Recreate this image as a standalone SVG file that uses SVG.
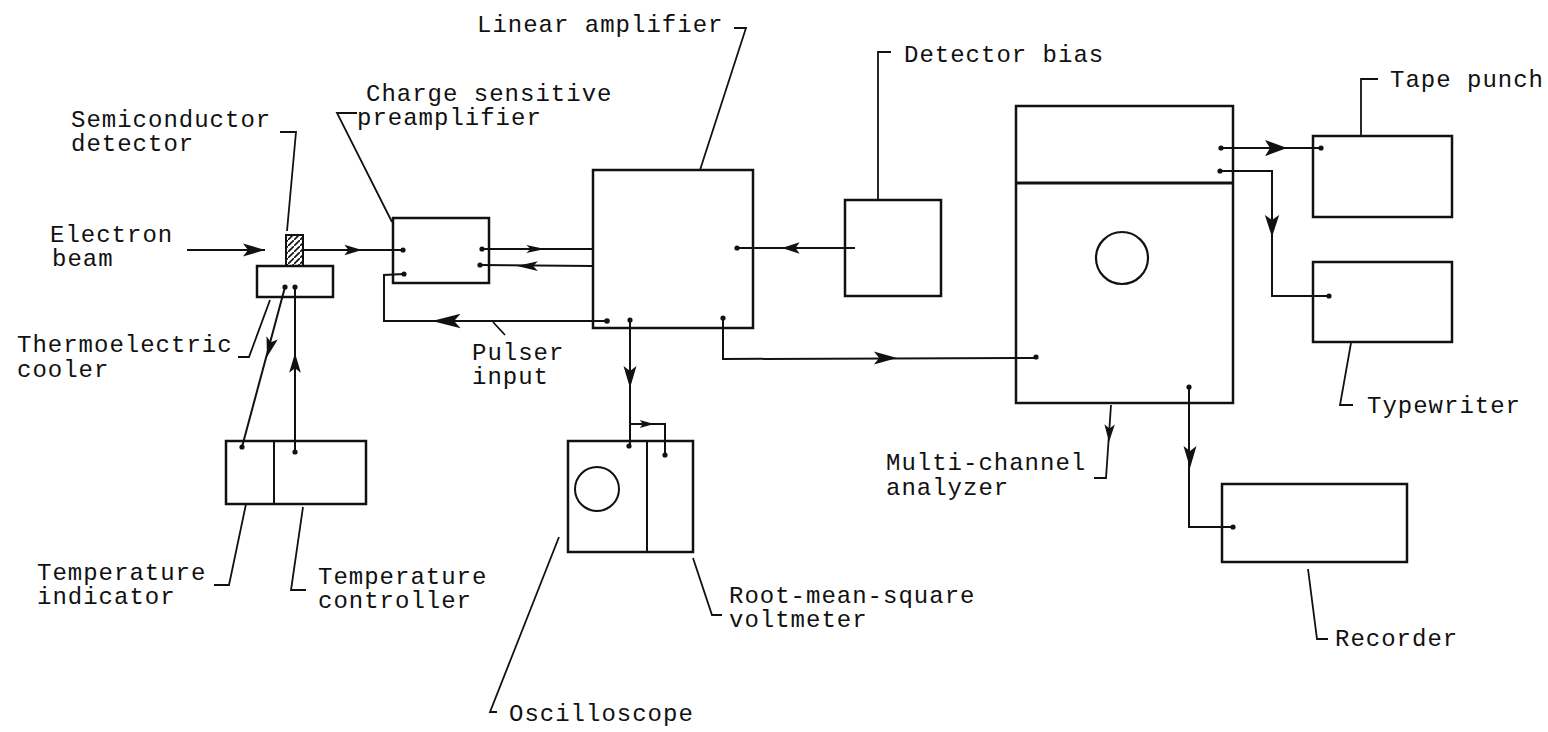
<svg xmlns="http://www.w3.org/2000/svg" xmlns:xlink="http://www.w3.org/1999/xlink" width="1548" height="732" viewBox="0 0 1548 732">
<style>
  .bg{fill:#fff}
  .box{fill:none;stroke:#111;stroke-width:2.5}
  .ln{fill:none;stroke:#111;stroke-width:2;stroke-linejoin:miter}
  .ld{fill:none;stroke:#111;stroke-width:1.8}
  .dot{fill:#111}
  .ah{fill:#111}
  text{font-family:"Liberation Mono","DejaVu Sans Mono",monospace;font-size:24px;letter-spacing:1px;fill:#111}
</style>
<defs>
  <path id="ah" d="M0,0 L-22,-6.5 L-17,0 L-22,6.5 Z"/>
  <pattern id="hatch" patternUnits="userSpaceOnUse" width="6" height="6">
    <path d="M-1,7 L7,-1" stroke="#111" stroke-width="1.6"/>
  </pattern>
</defs>
<rect class="bg" x="0" y="0" width="1548" height="732"/>

<g id="detector">
  <rect x="286" y="235" width="17" height="31" fill="url(#hatch)" stroke="#111" stroke-width="2"/>
  <path class="ld" d="M280,132 L296,132 L287,231"/>
  <text x="71" y="127">Semiconductor</text>
  <text x="71" y="151">detector</text>
</g>

<g id="beam-label">
  <text x="50" y="242">Electron</text>
  <text x="52" y="266">beam</text>
</g>

<g id="cooler">
  <rect class="box" x="257" y="266" width="76" height="31"/>
  <path class="ld" d="M270,300 L249,357 L238,357"/>
  <text x="17" y="352">Thermoelectric</text>
  <text x="17" y="377">cooler</text>
</g>

<g id="temperature">
  <rect class="box" x="226" y="441" width="140" height="63"/>
  <line class="ln" x1="274" y1="441" x2="274" y2="504"/>
  <path class="ld" d="M246,504 L229,585 L214,585"/>
  <path class="ld" d="M303,507 L291,590 L306,590"/>
  <text x="37" y="580">Temperature</text>
  <text x="37" y="604">indicator</text>
  <text x="318" y="584">Temperature</text>
  <text x="318" y="608">controller</text>
</g>

<g id="preamp">
  <rect class="box" x="393" y="218" width="96" height="65"/>
  <path class="ld" d="M357,113 L337,113 L392,222"/>
  <text x="366" y="101">Charge sensitive</text>
  <text x="357" y="125">preamplifier</text>
</g>

<g id="linear-amplifier">
  <rect class="box" x="593" y="170" width="160" height="158"/>
  <path class="ld" d="M734,28 L746,28 L700,170"/>
  <text x="477" y="32">Linear amplifier</text>
</g>

<g id="pulser-label">
  <path class="ld" d="M493,322 L505,335"/>
  <text x="472" y="360">Pulser</text>
  <text x="472" y="384">input</text>
</g>

<g id="detector-bias">
  <rect class="box" x="845" y="200" width="96" height="96"/>
  <path class="ld" d="M891,52 L878,52 L878,200"/>
  <text x="904" y="62">Detector bias</text>
</g>

<g id="scope-rms">
  <rect class="box" x="568" y="441" width="125" height="111"/>
  <line class="ln" x1="647" y1="441" x2="647" y2="552"/>
  <circle cx="597" cy="489" r="22" fill="none" stroke="#111" stroke-width="2"/>
  <path class="ld" d="M559,537 L490,712 L497,712"/>
  <path class="ld" d="M693,558 L712,615 L722,615"/>
  <text x="509" y="721">Oscilloscope</text>
  <text x="729" y="603">Root-mean-square</text>
  <text x="729" y="627">voltmeter</text>
</g>

<g id="mca">
  <rect class="box" x="1016" y="106" width="217" height="297"/>
  <line x1="1016" y1="183" x2="1233" y2="183" stroke="#111" stroke-width="3.2"/>
  <circle cx="1122" cy="258" r="26" fill="none" stroke="#111" stroke-width="2.2"/>
  <path class="ld" d="M1111,405 L1106,478 L1094,478"/>
  <use xlink:href="#ah" class="ah" transform="translate(1109,442) rotate(92) scale(0.8)"/>
  <text x="886" y="470">Multi-channel</text>
  <text x="886" y="495">analyzer</text>
</g>

<g id="tape-punch">
  <rect class="box" x="1313" y="136" width="139" height="81"/>
  <path class="ld" d="M1378,79 L1361,79 L1361,136"/>
  <text x="1390" y="87">Tape punch</text>
</g>

<g id="typewriter">
  <rect class="box" x="1313" y="262" width="139" height="80"/>
  <path class="ld" d="M1351,343 L1340,405 L1353,405"/>
  <text x="1367" y="413">Typewriter</text>
</g>

<g id="recorder">
  <rect class="box" x="1222" y="484" width="185" height="78"/>
  <path class="ld" d="M1308,569 L1317,639 L1328,639"/>
  <text x="1335" y="646">Recorder</text>
</g>

<g id="connectors">
  <!-- electron beam -->
  <path class="ln" d="M187,250 L265,250"/>
  <use xlink:href="#ah" class="ah" transform="translate(265,250)"/>
  <!-- detector to preamp -->
  <path class="ln" d="M303,250 L403,250"/>
  <use xlink:href="#ah" class="ah" transform="translate(362,250) scale(0.8)"/>
  <!-- preamp to amp -->
  <path class="ln" d="M482,249 L593,249"/>
  <use xlink:href="#ah" class="ah" transform="translate(545,249) scale(0.85,0.6)"/>
  <!-- amp to preamp -->
  <path class="ln" d="M593,266 L480,265"/>
  <use xlink:href="#ah" class="ah" transform="translate(517,266) rotate(180) scale(0.95,0.75)"/>
  <!-- pulser loop -->
  <path class="ln" d="M607,321 L384,321 L384,275 L404,274"/>
  <use xlink:href="#ah" class="ah" transform="translate(432,321) rotate(180) scale(1.3,1.1)"/>
  <!-- bias to amp -->
  <path class="ln" d="M855,248 L737,248"/>
  <use xlink:href="#ah" class="ah" transform="translate(782,248) rotate(180) scale(0.8,0.9)"/>
  <!-- amp to oscilloscope -->
  <path class="ln" d="M630,320 L630,447"/>
  <use xlink:href="#ah" class="ah" transform="translate(630,388) rotate(90)"/>
  <path class="ln" d="M630,424 L665,424 L665,455"/>
  <use xlink:href="#ah" class="ah" transform="translate(654,424) scale(0.65,0.6)"/>
  <!-- amp to MCA -->
  <path class="ln" d="M723,318 L723,359 L1036,358"/>
  <use xlink:href="#ah" class="ah" transform="translate(897,358) scale(1.05,1)"/>
  <!-- MCA to tape punch -->
  <path class="ln" d="M1221,148 L1321,148"/>
  <use xlink:href="#ah" class="ah" transform="translate(1287,148) scale(1,1.25)"/>
  <!-- MCA to typewriter -->
  <path class="ln" d="M1220,171 L1272,171 L1272,296 L1329,296"/>
  <use xlink:href="#ah" class="ah" transform="translate(1272,237) rotate(90) scale(1,1.1)"/>
  <!-- MCA to recorder -->
  <path class="ln" d="M1189,387 L1189,527 L1233,527"/>
  <use xlink:href="#ah" class="ah" transform="translate(1190,468) rotate(90)"/>
  <!-- cooler to temperature indicator -->
  <path class="ln" d="M285,287 L242,447"/>
  <use xlink:href="#ah" class="ah" transform="translate(267,357) rotate(105) scale(0.9)"/>
  <!-- temperature controller to cooler -->
  <path class="ln" d="M295,452 L295,287"/>
  <use xlink:href="#ah" class="ah" transform="translate(295,353) rotate(-90) scale(0.9)"/>
  <!-- dots -->
  <g class="dot">
    <circle cx="403" cy="250" r="2.6"/>
    <circle cx="404" cy="274" r="2.6"/>
    <circle cx="482" cy="249" r="2.6"/>
    <circle cx="480" cy="265" r="2.6"/>
    <circle cx="607" cy="321" r="2.8"/>
    <circle cx="630" cy="320" r="2.6"/>
    <circle cx="723" cy="318" r="2.6"/>
    <circle cx="737" cy="248" r="2.6"/>
    <circle cx="1221" cy="148" r="2.6"/>
    <circle cx="1220" cy="171" r="2.6"/>
    <circle cx="1321" cy="148" r="2.6"/>
    <circle cx="1329" cy="296" r="2.6"/>
    <circle cx="1036" cy="357" r="2.6"/>
    <circle cx="1189" cy="387" r="2.6"/>
    <circle cx="1233" cy="527" r="2.6"/>
    <circle cx="629" cy="446" r="2.6"/>
    <circle cx="665" cy="455" r="2.6"/>
    <circle cx="285" cy="287" r="2.6"/>
    <circle cx="295" cy="287" r="2.6"/>
    <circle cx="242" cy="447" r="2.6"/>
    <circle cx="295" cy="452" r="2.6"/>
  </g>
</g>
</svg>
